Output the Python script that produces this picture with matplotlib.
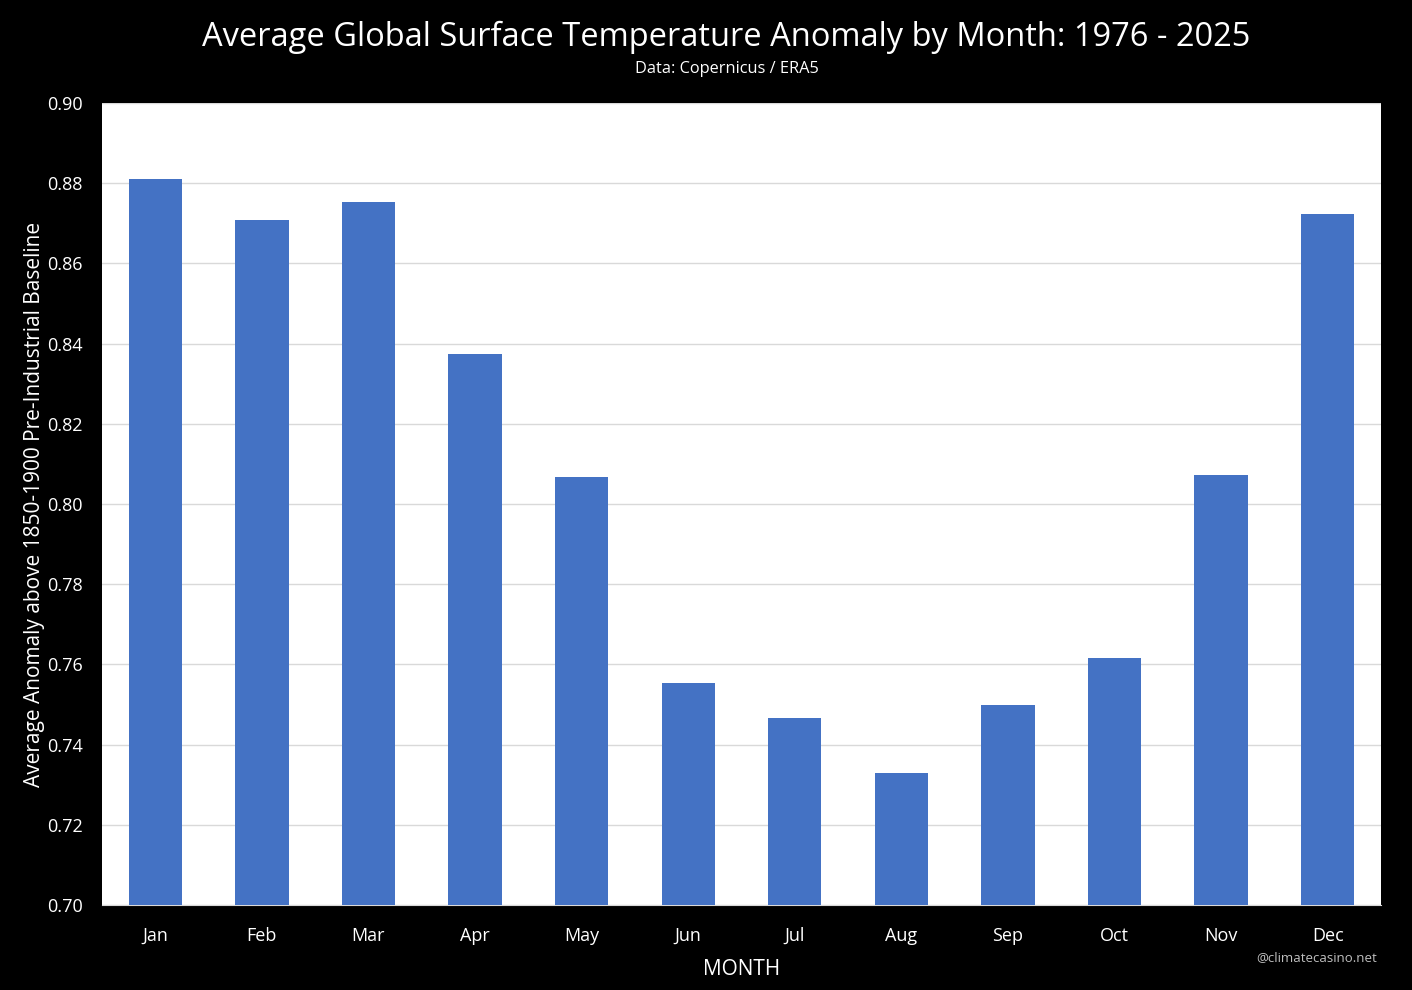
import matplotlib.pyplot as plt
import numpy as np

# Data
months = ["Jan", "Feb", "Mar", "Apr", "May", "Jun", "Jul", "Aug", "Sep", "Oct", "Nov", "Dec"]
anomaly = [0.8810, 0.8708, 0.8753, 0.8374, 0.8067, 0.7554, 0.7466, 0.7329, 0.7499, 0.7616, 0.8072, 0.8723]
yticks = [0.70, 0.72, 0.74, 0.76, 0.78, 0.80, 0.82, 0.84, 0.86, 0.88, 0.90]

plt.rcParams["font.family"] = ["Open Sans", "DejaVu Sans"]

fig = plt.figure(figsize=(14.12, 9.9), dpi=100, facecolor="black")
ax = fig.add_axes([102 / 1412, 1 - 905 / 990, (1381 - 102) / 1412, (905 - 103) / 990])
ax.set_facecolor("white")

x = np.arange(len(months))
ax.bar(x, anomaly, width=0.5, color="#4472C4", zorder=3)

ax.set_xlim(-0.5, len(months) - 0.5)
ax.set_ylim(0.70, 0.90)
ax.set_yticks(yticks)
ax.set_yticklabels([f"{v:.2f}" for v in yticks])
ax.set_xticks(x)
ax.set_xticklabels(months)
ax.grid(axis="y", color="#d9d9d9", linewidth=1, zorder=0)
ax.tick_params(colors="white", labelsize=13, length=0)
ax.tick_params(axis="x", pad=16)
ax.tick_params(axis="y", pad=14)
for side in ["top", "right", "left"]:
    ax.spines[side].set_visible(False)
ax.spines["bottom"].set_color("#d9d9d9")

ax.set_xlabel("MONTH", color="white", fontsize=15, labelpad=10)
ax.set_ylabel("Average Anomaly above 1850-1900 Pre-Industrial Baseline", color="white", fontsize=15)
ax.yaxis.set_label_coords(-0.0446, 0.5)

fig.text(726 / 1412, 1 - 37 / 990, "Average Global Surface Temperature Anomaly by Month: 1976 - 2025",
         color="white", fontsize=23.5, ha="center", va="center")
fig.text(727 / 1412, 1 - 69 / 990, "Data: Copernicus / ERA5", color="white", fontsize=11.8, ha="center", va="center")
fig.text(1377 / 1412, 1 - 958 / 990, "@climatecasino.net", color="#bfbfbf", fontsize=9.5, ha="right", va="center")

fig.savefig("out.png", dpi=100, facecolor="black")
